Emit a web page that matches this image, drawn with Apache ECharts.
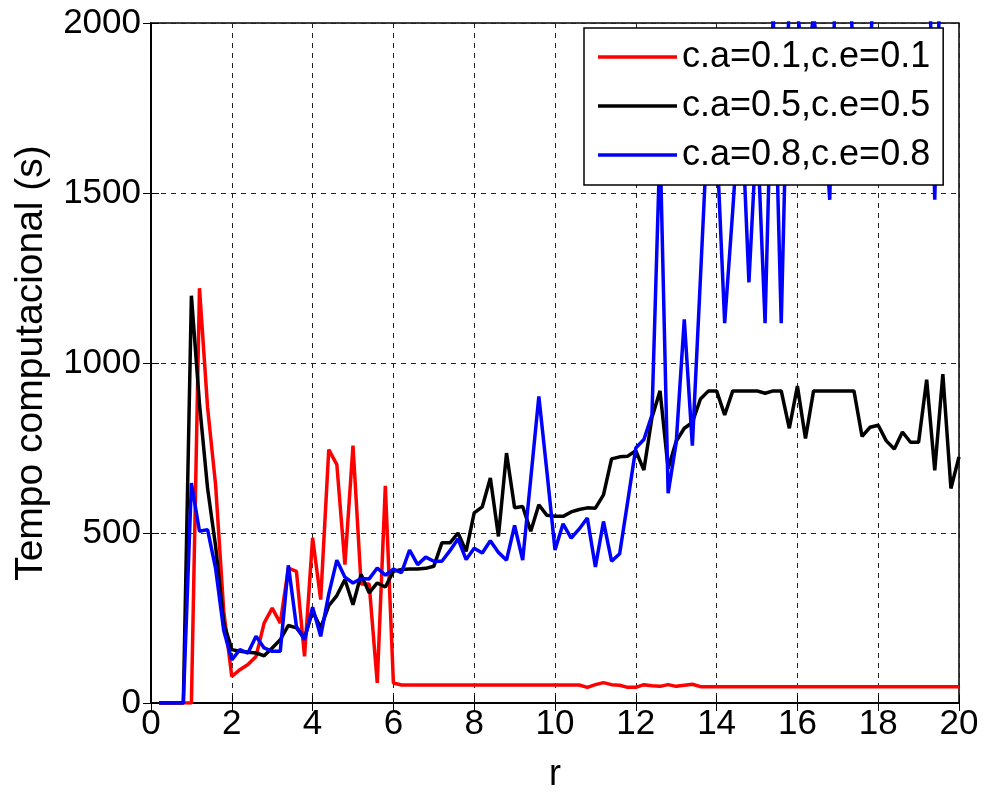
<!DOCTYPE html>
<html>
<head>
<meta charset="utf-8">
<script src="https://cdn.jsdelivr.net/npm/echarts@6/dist/echarts.min.js"></script>
<style>
  html, body { margin: 0; padding: 0; background: #fff; }
  #chart { width: 984px; height: 792px; }
</style>
</head>
<body>
<div id="chart"></div>
<script>
// valores de r (eixo x)
var rValues = [
  0.2, 0.4, 0.6, 0.8, 1.0, 1.2, 1.4, 1.6, 1.8, 2.0,
  2.2, 2.4, 2.6, 2.8, 3.0, 3.2, 3.4, 3.6, 3.8, 4.0,
  4.2, 4.4, 4.6, 4.8, 5.0, 5.2, 5.4, 5.6, 5.8, 6.0,
  6.2, 6.4, 6.6, 6.8, 7.0, 7.2, 7.4, 7.6, 7.8, 8.0,
  8.2, 8.4, 8.6, 8.8, 9.0, 9.2, 9.4, 9.6, 9.8, 10.0,
  10.2, 10.4, 10.6, 10.8, 11.0, 11.2, 11.4, 11.6, 11.8, 12.0,
  12.2, 12.4, 12.6, 12.8, 13.0, 13.2, 13.4, 13.6, 13.8, 14.0,
  14.2, 14.4, 14.6, 14.8, 15.0, 15.2, 15.4, 15.6, 15.8, 16.0,
  16.2, 16.4, 16.6, 16.8, 17.0, 17.2, 17.4, 17.6, 17.8, 18.0,
  18.2, 18.4, 18.6, 18.8, 19.0, 19.2, 19.4, 19.6, 19.8, 20.0
];

// c.a=0.1, c.e=0.1
var tempo01 = [
  0, 0, 0, 0, 0, 1220, 870, 640, 270, 78,
  98, 113, 137, 235, 279, 235, 397, 387, 137, 486,
  304, 745, 701, 407, 757, 350, 350, 59, 639, 59,
  53, 53, 53, 53, 53, 53, 53, 53, 53, 53,
  53, 53, 53, 53, 53, 53, 53, 53, 53, 53,
  53, 53, 53, 46, 54, 60, 54, 52, 46, 46,
  54, 51, 49, 54, 49, 52, 55, 48, 48, 48,
  48, 48, 48, 48, 48, 48, 48, 48, 48, 48,
  48, 48, 48, 48, 48, 48, 48, 48, 48, 48,
  48, 48, 48, 48, 48, 48, 48, 48, 48, 48
];

// c.a=0.5, c.e=0.5
var tempo05 = [
  0, 0, 0, 0, 1198, 880, 632, 460, 235, 157,
  152, 149, 147, 139, 162, 186, 228, 221, 191, 270,
  221, 286, 316, 363, 289, 378, 324, 353, 341, 387,
  393, 394, 394, 396, 402, 471, 471, 500, 446, 559,
  577, 662, 490, 735, 574, 578, 505, 583, 552, 549,
  549, 562, 569, 574, 573, 612, 718, 724, 726, 742,
  685, 840, 918, 690, 770, 808, 825, 894, 918, 918,
  847, 918, 918, 918, 918, 911, 918, 918, 808, 932,
  778, 918, 918, 918, 918, 918, 918, 784, 811, 817,
  771, 747, 797, 767, 767, 951, 684, 967, 631, 724
];

// c.a=0.8, c.e=0.8 (valores acima de 2000 ficam cortados)
var tempo08 = [
  0, 0, 0, 0, 647, 505, 510, 395, 213, 127,
  157, 147, 196, 162, 152, 152, 405, 225, 186, 282,
  196, 320, 420, 370, 353, 366, 365, 397, 376, 394,
  383, 450, 407, 429, 417, 417, 448, 483, 422, 455,
  441, 477, 443, 420, 522, 420, 660, 902, 680, 450,
  527, 485, 512, 544, 400, 534, 417, 439, 593, 750,
  775, 847, 1650, 617, 766, 1128, 757, 1250, 1750, 1660,
  1117, 1450, 1800, 1237, 1700, 1117, 2030, 1117, 2100, 2030,
  1850, 2020, 1850, 1480, 2400, 2400, 1850, 1800, 1900, 2400,
  2500, 2500, 2500, 2500, 2500, 2500, 1480, 2500, 2500, 2500
];

var seriesNames = ['c.a=0.1,c.e=0.1', 'c.a=0.5,c.e=0.5', 'c.a=0.8,c.e=0.8'];
var seriesColors = ['#ff0000', '#000000', '#0000ff'];
var seriesValues = [tempo01, tempo05, tempo08];

var xTicks = [0, 20, 2];      // min, max, intervalo
var yTicks = [0, 2000, 500];

function pares(vals) {
  var out = [];
  for (var i = 0; i < rValues.length; i++) {
    out.push([rValues[i], vals[i]]);
  }
  return out;
}

var fonte = 'Liberation Sans, Arial, Helvetica, sans-serif';
var gridDash = { color: '#222', width: 1, type: [5, 5] };
var eixo = { show: true, lineStyle: { color: '#000', width: 1.5 } };
var tick = { show: true, inside: true, length: 8, lineStyle: { color: '#000' } };

var series = [];
for (var s = 0; s < seriesNames.length; s++) {
  series.push({
    name: seriesNames[s],
    type: 'line',
    data: pares(seriesValues[s]),
    symbol: 'none',
    clip: true,
    lineStyle: { color: seriesColors[s], width: 3.5 },
    itemStyle: { color: seriesColors[s] }
  });
}

var chart = echarts.init(document.getElementById('chart'));
chart.setOption({
  backgroundColor: '#fff',
  animation: false,
  grid: {
    left: 151, right: 25, top: 23, bottom: 89,
    outerBoundsMode: 'none',
    show: true, borderColor: '#000', borderWidth: 1.5, backgroundColor: 'transparent'
  },
  legend: {
    orient: 'vertical',
    left: 584, top: 28,
    padding: [11, 13, 12, 14],
    itemGap: 13,
    icon: 'rect',
    itemWidth: 79, itemHeight: 3.5,
    backgroundColor: '#fff',
    borderColor: '#000', borderWidth: 1.5,
    textStyle: { fontSize: 36, color: '#000', fontFamily: fonte },
    data: seriesNames
  },
  xAxis: [{
    type: 'value',
    min: xTicks[0], max: xTicks[1], interval: xTicks[2],
    name: 'r', nameLocation: 'middle', nameGap: 54,
    nameTextStyle: { fontSize: 36, color: '#000', fontFamily: fonte },
    axisLine: eixo, axisTick: tick,
    axisLabel: { fontSize: 35, color: '#000', margin: 4, fontFamily: fonte,
      formatter: function (v) { return String(v); } },
    splitLine: { show: true, lineStyle: gridDash }
  }, {
    type: 'value', position: 'top',
    min: xTicks[0], max: xTicks[1], interval: xTicks[2],
    axisLine: eixo, axisTick: tick,
    axisLabel: { show: false },
    splitLine: { show: false }
  }],
  yAxis: [{
    type: 'value',
    min: yTicks[0], max: yTicks[1], interval: yTicks[2],
    name: 'Tempo computacional (s)', nameLocation: 'middle', nameGap: 100,
    nameTextStyle: { fontSize: 39, color: '#000', fontFamily: fonte },
    axisLine: eixo, axisTick: tick,
    axisLabel: { fontSize: 35, color: '#000', margin: 10, fontFamily: fonte,
      formatter: function (v) { return String(v); } },
    splitLine: { show: true, lineStyle: gridDash }
  }, {
    type: 'value', position: 'right',
    min: yTicks[0], max: yTicks[1], interval: yTicks[2],
    axisLine: eixo, axisTick: tick,
    axisLabel: { show: false },
    splitLine: { show: false }
  }],
  series: series
});
</script>
</body>
</html>
